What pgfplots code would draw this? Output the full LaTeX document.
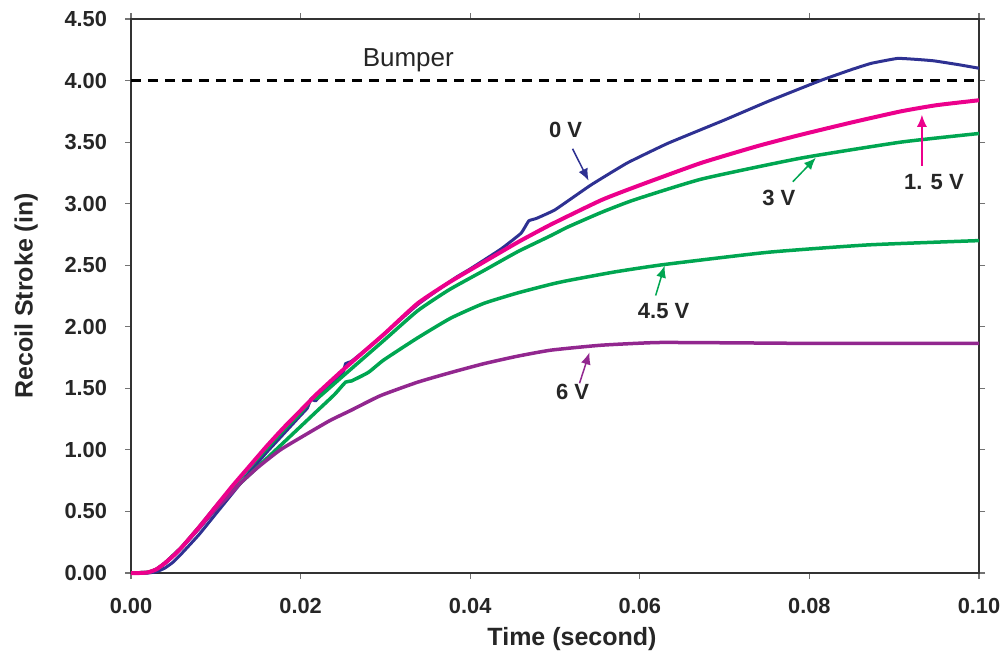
\documentclass[border=0pt]{standalone}
\usepackage{fontspec}
\setmainfont{Liberation Sans}
\usepackage{pgfplots}
\pgfplotsset{compat=1.18}
\usetikzlibrary{arrows.meta}
\definecolor{cBlue}{HTML}{2E3192}
\definecolor{cPink}{HTML}{EC008C}
\definecolor{cGreen}{HTML}{00A651}
\definecolor{cPurple}{HTML}{92278F}
\definecolor{cAxis}{HTML}{333333}
\begin{document}
\begin{tikzpicture}
\begin{axis}[
  width=848bp, height=554bp, scale only axis,
  xmin=0, xmax=0.1, ymin=0, ymax=4.5,
  xtick={0,0.02,0.04,0.06,0.08,0.1},
  ytick={0,0.5,1,1.5,2,2.5,3,3.5,4,4.5},
  scaled x ticks=false, scaled y ticks=false,
  xticklabel style={/pgf/number format/.cd,fixed,fixed zerofill,precision=2,assume math mode=true},
  yticklabel style={/pgf/number format/.cd,fixed,fixed zerofill,precision=2,assume math mode=true},
  tick label style={font=\fontsize{21.8bp}{26bp}\selectfont\bfseries, text=black!85},
  xticklabel shift=16bp, yticklabel shift=14.5bp,
  tick align=outside, major tick length=6bp,
  tick style={line width=1.2bp, color=black!55},
  axis line style={line width=1.8bp, color=cAxis},
  xlabel={Time (second)}, ylabel={Recoil Stroke (in)},
  label style={font=\fontsize{25bp}{30bp}\selectfont\bfseries, text=black!85},
  xlabel style={xshift=17bp, yshift=-7bp},
  ylabel shift=20bp,
  clip=false,
]
% fixed picture extent (reference margins)
\path ([xshift=-131bp,yshift=-90bp]rel axis cs:0,0) rectangle ([xshift=27bp,yshift=19bp]rel axis cs:1,1);
% Bumper line
\addplot[black, line width=2.5bp, dash pattern=on 10bp off 7bp] coordinates {(0,4.0) (0.1,4.0)};
% 0 V
\addplot[cBlue, line width=3bp, smooth, tension=0.2] coordinates {
(0,0) (0.002,0) (0.003,0.01) (0.004,0.04) (0.005,0.09) (0.006,0.16) (0.008,0.31)
(0.010,0.48) (0.012,0.65) (0.014,0.82) (0.016,0.98) (0.018,1.13) (0.020,1.28)
(0.0208,1.34) (0.0212,1.41) (0.0218,1.40) (0.023,1.50) (0.025,1.63) (0.0253,1.70)
(0.026,1.72) (0.028,1.83) (0.030,1.95) (0.0338,2.18) (0.036,2.29) (0.0383,2.40)
(0.040,2.47) (0.0436,2.63) (0.046,2.76) (0.0469,2.86) (0.0478,2.88) (0.050,2.95)
(0.0542,3.15) (0.0585,3.33) (0.0633,3.49) (0.070,3.68) (0.0751,3.83) (0.0813,4.00) (0.0850,4.09)
(0.0873,4.14) (0.0904,4.18) (0.0930,4.17) (0.0947,4.16) (0.0975,4.13) (0.100,4.10)};
% 3 V
\addplot[cGreen, line width=3.5bp, smooth, tension=0.3] coordinates {
(0,0) (0.002,0.005) (0.003,0.03) (0.004,0.08) (0.006,0.21) (0.008,0.37) (0.010,0.54)
(0.012,0.70) (0.014,0.86) (0.016,1.01) (0.018,1.16) (0.020,1.30) (0.0214,1.42)
(0.022,1.42) (0.025,1.60) (0.028,1.78) (0.030,1.90) (0.0338,2.13) (0.0375,2.30)
(0.0417,2.46) (0.0456,2.61) (0.0495,2.74) (0.0515,2.81) (0.0555,2.93) (0.0593,3.03)
(0.0673,3.20) (0.079,3.37) (0.0908,3.50) (0.100,3.57)};
% 4.5 V
\addplot[cGreen, line width=3.5bp, smooth, tension=0.3] coordinates {
(0,0) (0.002,0.005) (0.003,0.03) (0.004,0.08) (0.006,0.21) (0.008,0.37) (0.010,0.52)
(0.012,0.67) (0.014,0.80) (0.016,0.93) (0.018,1.06) (0.020,1.19) (0.022,1.32)
(0.024,1.45) (0.0253,1.55) (0.026,1.56) (0.028,1.63) (0.0298,1.73) (0.0338,1.91)
(0.0377,2.07) (0.0416,2.19) (0.0456,2.275) (0.0495,2.345) (0.0515,2.375) (0.057,2.445)
(0.0628,2.505) (0.0751,2.605) (0.0869,2.665) (0.100,2.70)};
% 6 V
\addplot[cPurple, line width=3.5bp, smooth, tension=0.3] coordinates {
(0,0) (0.002,0.005) (0.003,0.03) (0.004,0.08) (0.006,0.21) (0.008,0.36) (0.010,0.52)
(0.012,0.66) (0.0129,0.73) (0.0150,0.86) (0.0176,1.00) (0.0205,1.12) (0.0235,1.24)
(0.0259,1.32) (0.0294,1.44) (0.0338,1.55) (0.0378,1.63) (0.0416,1.70) (0.0455,1.76)
(0.0495,1.81) (0.0554,1.85) (0.062,1.872) (0.070,1.87) (0.080,1.865) (0.090,1.865)
(0.100,1.865)};
% 1.5 V
\addplot[cPink, line width=4bp, smooth, tension=0.3] coordinates {
(0,0) (0.001,0) (0.002,0.005) (0.003,0.03) (0.004,0.08) (0.005,0.14) (0.006,0.21)
(0.008,0.37) (0.010,0.54) (0.012,0.71) (0.014,0.87) (0.016,1.03) (0.018,1.18)
(0.020,1.32) (0.022,1.46) (0.025,1.65) (0.028,1.83) (0.030,1.95) (0.0338,2.19)
(0.0375,2.36) (0.0417,2.53) (0.0457,2.69) (0.0495,2.83) (0.0555,3.03) (0.060,3.15)
(0.0672,3.33) (0.074,3.47) (0.079,3.56) (0.085,3.66) (0.0908,3.75) (0.095,3.80)
(0.100,3.84)};
% annotations
\node[font=\fontsize{26bp}{30bp}\selectfont, text=black!85] at (axis cs:0.0327,4.166) {Bumper};
\tikzset{lab/.style={font=\fontsize{22bp}{26bp}\selectfont\bfseries, text=black!85}}
\node[lab] at (axis cs:0.05124,3.60) {0 V};
\draw[cBlue, line width=1.5bp, -{Latex[length=12bp,width=10bp]}] (axis cs:0.05207,3.446) -- (axis cs:0.05396,3.187);
\node[lab] at (axis cs:0.09469,3.178) {1. 5 V};
\draw[cPink, line width=1.5bp, -{Latex[length=12bp,width=10bp]}] (axis cs:0.09327,3.308) -- (axis cs:0.09327,3.722);
\node[lab] at (axis cs:0.07639,3.049) {3 V};
\draw[cGreen, line width=1.5bp, -{Latex[length=12bp,width=10bp]}] (axis cs:0.07804,3.178) -- (axis cs:0.08076,3.373);
\node[lab] at (axis cs:0.06281,2.124) {4.5 V};
\draw[cGreen, line width=1.5bp, -{Latex[length=12bp,width=10bp]}] (axis cs:0.06187,2.254) -- (axis cs:0.06293,2.497);
\node[lab] at (axis cs:0.05207,1.468) {6 V};
\draw[cPurple, line width=1.5bp, -{Latex[length=12bp,width=10bp]}] (axis cs:0.05289,1.541) -- (axis cs:0.05407,1.792);
\end{axis}
\end{tikzpicture}
\end{document}
